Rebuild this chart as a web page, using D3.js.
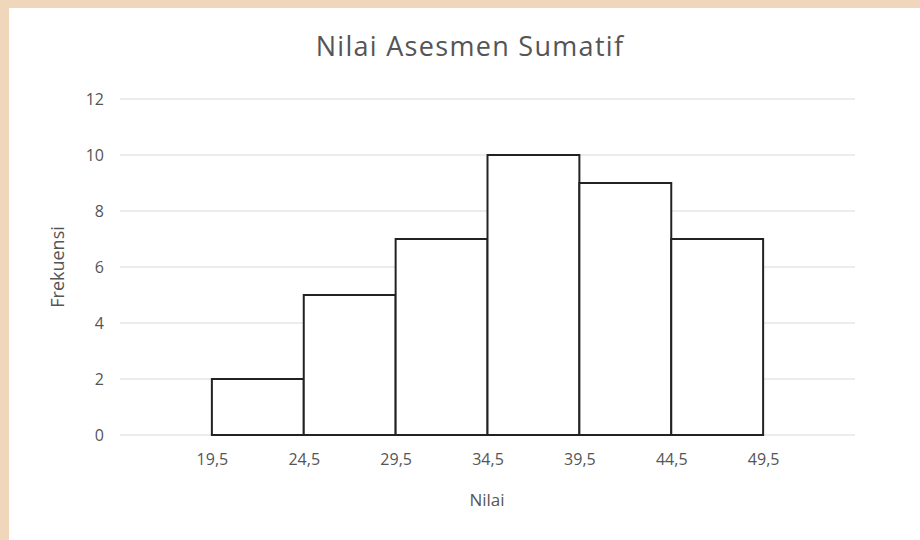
<!DOCTYPE html>
<html>
<head>
<meta charset="utf-8">
<script src="https://cdn.jsdelivr.net/npm/d3@7"></script>
<style>
body { margin:0; background:#f0d6bb; }
svg { display:block; }
</style>
</head>
<body>
<script>
// histogram data: class boundaries and frequency per class
var boundaries = [19.5, 24.5, 29.5, 34.5, 39.5, 44.5, 49.5]
var frequencies = [2, 5, 7, 10, 9, 7]
var yTicks = [0, 2, 4, 6, 8, 10, 12]

var W = 920, H = 540
var svg = d3.select("body").append("svg").attr("width", W).attr("height", H)

// white chart panel on the tan page
svg.append("rect").attr("x", 9).attr("y", 8).attr("width", W - 9).attr("height", H - 8).attr("fill", "#fff")

var x = d3.scaleLinear().domain([14.5, 54.5]).range([120, 855])
var y = d3.scaleLinear().domain([0, 12]).range([435, 99])

var font = "'Open Sans', 'Noto Sans', sans-serif"
var grey = "#555"

// gridlines
svg.append("g").selectAll("line")
	.data(yTicks).enter().append("line")
	.attr("x1", x.range()[0]).attr("x2", x.range()[1])
	.attr("y1", function(d){return y(d)}).attr("y2", function(d){return y(d)})
	.attr("stroke", "#d9d9d9").attr("stroke-width", 1)

// y axis labels
var yAxis = d3.axisLeft(y).tickValues(yTicks).tickSize(0).tickPadding(0)
var gy = svg.append("g").attr("transform", "translate(104,0)").call(yAxis)
gy.select(".domain").remove()
gy.selectAll("text").attr("fill", grey).style("font-family", font).style("font-size", "16px")

// bars
var bins = frequencies.map(function(f, i){ return {x0: boundaries[i], x1: boundaries[i+1], n: f} })
svg.append("g").selectAll("rect")
	.data(bins).enter().append("rect")
	.attr("x", function(d){return x(d.x0)})
	.attr("width", function(d){return x(d.x1) - x(d.x0)})
	.attr("y", function(d){return y(d.n)})
	.attr("height", function(d){return y(0) - y(d.n)})
	.attr("fill", "#fff").attr("stroke", "#222").attr("stroke-width", 2)

// x axis labels at class boundaries
var xAxis = d3.axisBottom(x).tickValues(boundaries).tickSize(0).tickPadding(0)
	.tickFormat(function(d){return d3.format(".1f")(d).replace(".", ",")})
var gx = svg.append("g").attr("transform", "translate(0,454)").call(xAxis)
gx.select(".domain").remove()
gx.selectAll("text").attr("fill", grey).style("font-family", font).style("font-size", "16px")

// titles
svg.append("text").attr("x", 470).attr("y", 56).attr("text-anchor", "middle")
	.attr("fill", grey).style("font-family", font).style("font-size", "27px")
	.style("letter-spacing", "1.3px")
	.text("Nilai Asesmen Sumatif")
svg.append("text").attr("x", 487).attr("y", 506).attr("text-anchor", "middle")
	.attr("fill", grey).style("font-family", font).style("font-size", "17px")
	.text("Nilai")
svg.append("text").attr("transform", "translate(64,267) rotate(-90)").attr("text-anchor", "middle")
	.attr("fill", grey).style("font-family", font).style("font-size", "18px")
	.text("Frekuensi")
</script>
</body>
</html>
